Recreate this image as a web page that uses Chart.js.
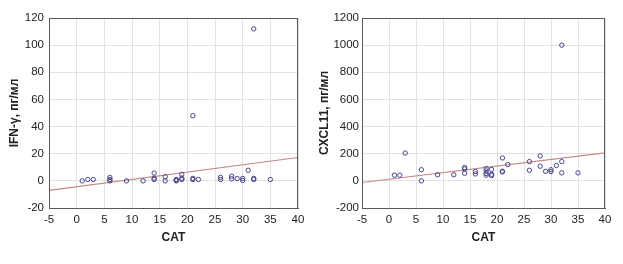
<!DOCTYPE html>
<html>
<head>
<meta charset="utf-8">
<script src="https://cdn.jsdelivr.net/npm/chart.js@4/dist/chart.umd.min.js"></script>
<style>
  html, body { margin: 0; padding: 0; background: #fff; }
  body { width: 623px; height: 264px; position: relative; overflow: hidden; }
  canvas { position: absolute; top: 0; }
  #c1 { left: 0; }
  #c2 { left: 310px; }
</style>
</head>
<body>
<canvas id="c1" width="310" height="264"></canvas>
<canvas id="c2" width="313" height="264"></canvas>
<script>
// ---- data ----
const catIFN = [1, 2, 3, 6, 6, 6, 9, 12, 14, 14, 14, 16, 16, 18, 18, 18, 19, 19, 19, 21, 21, 21, 22, 26, 26, 28, 28, 29, 30, 30, 31, 32, 32, 32, 35];
const ifnValues = [0, 1, 1, 2.5, 1, 0, 0, 0, 5.7, 2, 1, 3, 0, 1, 0.5, 0, 4.8, 2, 1, 48, 1.8, 1, 1, 2.6, 1, 3.4, 1.5, 1.7, 1.8, 0.3, 7.8, 112, 1.8, 1, 1];
const catCXCL = [1, 2, 3, 6, 6, 9, 12, 14, 14, 14, 16, 16, 18, 18, 18, 18, 19, 19, 19, 21, 21, 21, 22, 26, 26, 28, 28, 29, 30, 30, 31, 32, 32, 32, 35];
const cxclValues = [42, 42, 205, 82, 0, 45, 45, 98, 88, 56, 69, 51, 91, 73, 54, 42, 84, 48, 39, 169, 71, 66, 120, 142, 78, 184, 108, 70, 82, 68, 113, 1000, 142, 59, 59];
const fitX = [-5, 40];
const ifnFitY = [-7, 17.2];
const cxclFitY = [-12, 206];
const xTicks = [-5, 0, 5, 10, 15, 20, 25, 30, 35, 40];
const ifnTicks = [-20, 0, 20, 40, 60, 80, 100, 120];
const cxclTicks = [-200, 0, 200, 400, 600, 800, 1000, 1200];
const ifnTitle = 'IFN-γ, пг/мл';
const cxclTitle = 'CXCL11, пг/мл';
const xTitle = 'CAT';

// ---- styling ----
const FONT = "'Liberation Sans', Arial, sans-serif";
const pointColor = '#45458a';
const lineColor = '#c48888';
const gridColor = '#e2e2e2';
const frameColor = '#5a5a5a';

const framePlugin = {
  id: 'frame',
  afterDraw(chart) {
    const { ctx, chartArea: a } = chart;
    ctx.save();
    ctx.strokeStyle = frameColor;
    ctx.lineWidth = 1;
    ctx.strokeRect(Math.round(a.left) + 0.5, Math.round(a.top) + 0.5,
      Math.round(a.right - a.left) - 1, Math.round(a.bottom - a.top));
    ctx.restore();
  }
};

function makeChart(id, xs, ys, fitY, yTicks, yTitle, yWidth, rightPad, yPad) {
  const pts = xs.map((x, i) => ({ x, y: ys[i] }));
  const fit = fitX.map((x, i) => ({ x, y: fitY[i] }));
  const yMin = yTicks[0], yMax = yTicks[yTicks.length - 1];
  return new Chart(document.getElementById(id), {
    type: 'scatter',
    data: {
      datasets: [
        {
          data: pts,
          pointRadius: 2.2,
          pointBorderWidth: 1,
          pointBorderColor: pointColor,
          pointBackgroundColor: 'rgba(255,255,255,0)',
          showLine: false,
          order: 1
        },
        {
          data: fit,
          showLine: true,
          borderColor: lineColor,
          borderWidth: 1.2,
          pointRadius: 0,
          order: 2
        }
      ]
    },
    options: {
      responsive: false,
      animation: false,
      devicePixelRatio: 1,
      layout: { padding: { top: 18, right: rightPad, left: 0, bottom: 0 } },
      plugins: { legend: { display: false }, tooltip: { enabled: false } },
      scales: {
        x: {
          type: 'linear',
          min: xTicks[0], max: xTicks[xTicks.length - 1],
          afterBuildTicks(s) { s.ticks = xTicks.map(v => ({ value: v })); },
          afterFit(s) { s.height = 56; },
          grid: { color: gridColor, drawTicks: false },
          border: { display: true, color: frameColor },
          ticks: { padding: 5, color: '#222', font: { family: FONT, size: 11.5 }, maxRotation: 0,
                   callback: v => String(v) },
          title: { display: true, text: xTitle, color: '#222', padding: { top: 0, bottom: 19 },
                   font: { family: FONT, size: 12, weight: 'bold' } }
        },
        y: {
          type: 'linear',
          min: yMin, max: yMax,
          afterBuildTicks(s) { s.ticks = yTicks.map(v => ({ value: v })); },
          ticks: { padding: yPad, color: '#222', font: { family: FONT, size: 11.5 },
                   callback: v => String(v) },
          afterFit(s) { s.width = yWidth; },
          grid: { color: gridColor, drawTicks: false },
          border: { display: true, color: frameColor },
          title: { display: true, text: yTitle, color: '#222', padding: { top: 7, bottom: 0 },
                   font: { family: FONT, size: 12, weight: 'bold' } }
        }
      }
    },
    plugins: [framePlugin]
  });
}

makeChart('c1', catIFN, ifnValues, ifnFitY, ifnTicks, ifnTitle, 49, 12, 5);
makeChart('c2', catCXCL, cxclValues, cxclFitY, cxclTicks, cxclTitle, 52, 18, 3);
</script>
</body>
</html>
